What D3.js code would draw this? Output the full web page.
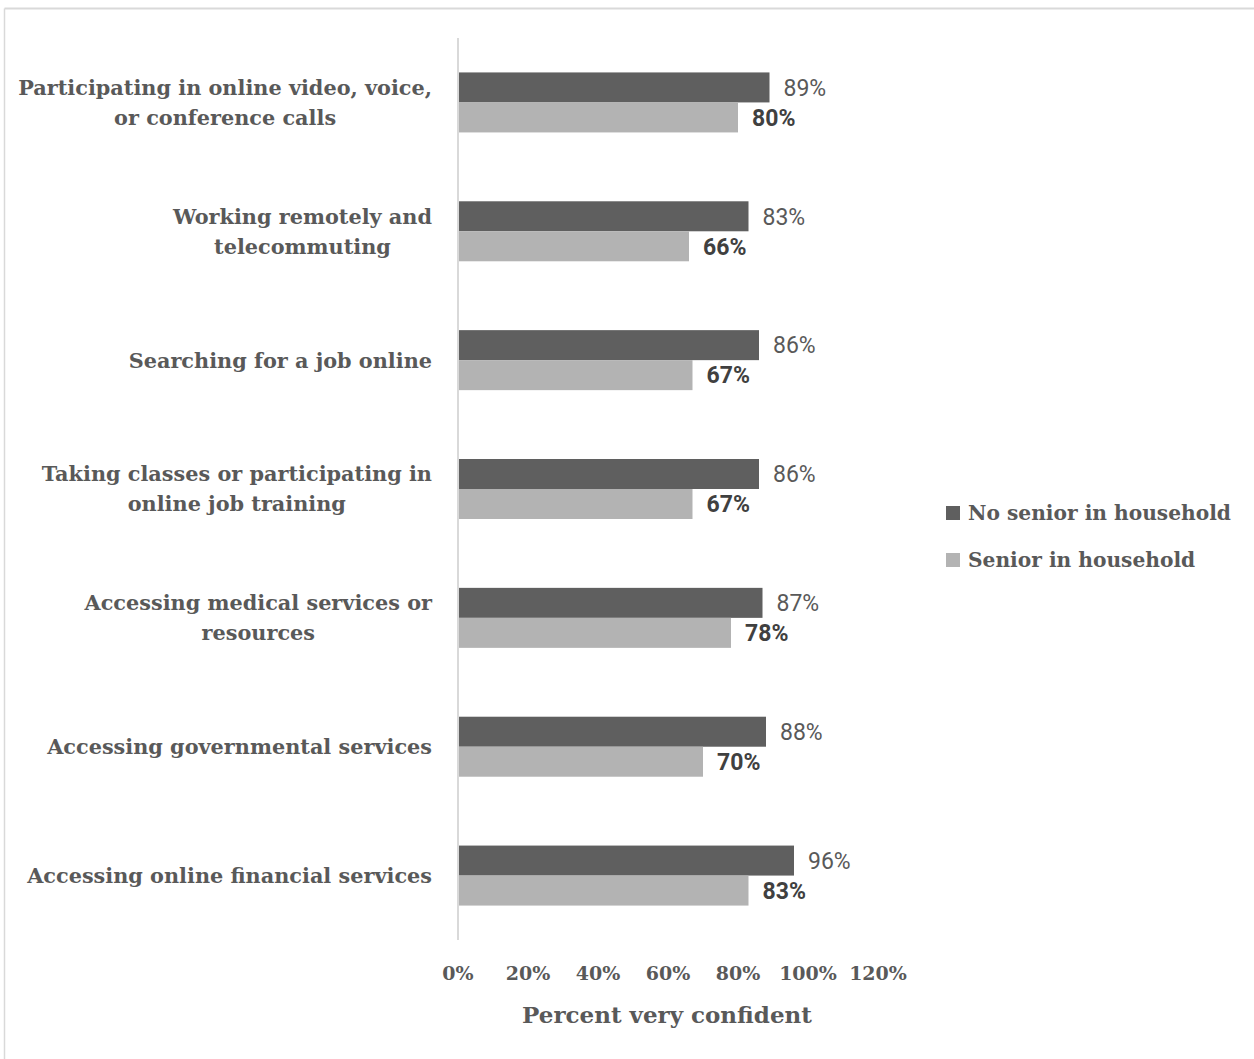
<!DOCTYPE html>
<html>
<head>
<meta charset="utf-8">
<script src="https://cdn.jsdelivr.net/npm/d3@7"></script>
<style>
  html, body { margin: 0; padding: 0; background: #fff; }
  svg { display: block; }
  .slab { font-family: "DejaVu Serif", "Liberation Serif", serif; font-weight: bold; fill: #595959; }
  .val { font-family: Roboto, "Noto Sans", sans-serif; }
</style>
</head>
<body>
<svg id="chart" width="1254" height="1059"></svg>
<script>
// Activities, listed top to bottom (label lines split where the text wraps)
const categories = [
  ["Participating in online video, voice,", "or conference calls"],
  ["Working remotely and", "telecommuting"],
  ["Searching for a job online"],
  ["Taking classes or participating in", "online job training"],
  ["Accessing medical services or", "resources"],
  ["Accessing governmental services"],
  ["Accessing online financial services"]
];
const seriesNames = ["No senior in household", "Senior in household"];
const noSenior = [89, 83, 86, 86, 87, 88, 96];
const senior = [80, 66, 67, 67, 78, 70, 83];
const xTicks = [0, 20, 40, 60, 80, 100, 120];

const colors = ["#5f5f5f", "#b3b3b3"];

const svg = d3.select("#chart");
const W = 1254, H = 1059;

// outer frame (top and left edges show)
svg.append("line").attr("x1", 4.5).attr("x2", W).attr("y1", 8.5).attr("y2", 8.5)
  .attr("stroke", "#d9d9d9").attr("stroke-width", 2);
svg.append("line").attr("x1", 4.5).attr("x2", 4.5).attr("y1", 8.5).attr("y2", H)
  .attr("stroke", "#d9d9d9").attr("stroke-width", 1.5);

const plot = { left: 458, right: 878, top: 38, bottom: 940 };

const x = d3.scaleLinear().domain([0, 120]).range([plot.left, plot.right]);
const keys = categories.map((c, i) => i);
const y = d3.scaleBand().domain(keys).range([plot.top, plot.bottom]).padding(0);
const sub = d3.scaleBand().domain([0, 1]).range([-30, 30]).padding(0);

const data = keys.map(i => ({ i, values: [noSenior[i], senior[i]] }));

// bars
const groups = svg.append("g").selectAll("g").data(data).join("g")
  .attr("transform", d => `translate(0,${y(d.i) + y.bandwidth() / 2})`);

groups.selectAll("rect").data(d => d.values.map((v, s) => ({ v, s }))).join("rect")
  .attr("x", x(0))
  .attr("y", d => sub(d.s))
  .attr("width", d => x(d.v) - x(0))
  .attr("height", sub.bandwidth())
  .attr("fill", d => colors[d.s]);

groups.selectAll("text.val").data(d => d.values.map((v, s) => ({ v, s }))).join("text")
  .attr("class", "val")
  .attr("x", d => x(d.v) + 14)
  .attr("y", d => sub(d.s) + sub.bandwidth() / 2)
  .attr("dy", "0.36em")
  .attr("font-size", 23)
  .attr("font-weight", d => d.s === 1 ? "bold" : "normal")
  .attr("fill", d => d.s === 1 ? "#404040" : "#595959")
  .text(d => d.v + "%");

// vertical axis line
svg.append("line")
  .attr("x1", x(0)).attr("x2", x(0))
  .attr("y1", plot.top).attr("y2", plot.bottom)
  .attr("stroke", "#d9d9d9").attr("stroke-width", 2);

// category labels: block right-aligned to the axis, lines centred within it
const labelRight = 432;
const lh = 30;
const catG = svg.append("g").selectAll("text").data(data).join("text")
  .attr("class", "slab")
  .attr("text-anchor", "middle")
  .attr("font-size", 20.8);
catG.each(function (d) {
  const lines = categories[d.i];
  const t = d3.select(this);
  const cy = y(d.i) + y.bandwidth() / 2;
  const spans = lines.map((ln, k) => t.append("tspan")
    .attr("x", 0)
    .attr("y", cy + (k - (lines.length - 1) / 2) * lh)
    .attr("dy", "0.36em")
    .text(ln));
  const w = d3.max(spans, s => s.node().getComputedTextLength());
  spans.forEach(s => s.attr("x", labelRight - w / 2));
});

// x tick labels
svg.append("g").selectAll("text").data(xTicks).join("text")
  .attr("class", "slab")
  .attr("x", d => x(d))
  .attr("y", 973)
  .attr("dy", "0.36em")
  .attr("text-anchor", "middle")
  .attr("font-size", 19)
  .text(d => d + "%");

// x axis title
svg.append("text")
  .attr("class", "slab")
  .attr("x", 667)
  .attr("y", 1015)
  .attr("dy", "0.36em")
  .attr("text-anchor", "middle")
  .attr("font-size", 23)
  .text("Percent very confident");

// legend
const leg = svg.append("g").selectAll("g").data(seriesNames).join("g")
  .attr("transform", (d, i) => `translate(946,${513 + i * 47})`);
leg.append("rect").attr("x", 0).attr("y", -7).attr("width", 14).attr("height", 14)
  .attr("fill", (d, i) => colors[i]);
leg.append("text").attr("class", "slab")
  .attr("x", 22).attr("dy", "0.36em")
  .attr("font-size", 20.2)
  .text(d => d);
</script>
</body>
</html>
